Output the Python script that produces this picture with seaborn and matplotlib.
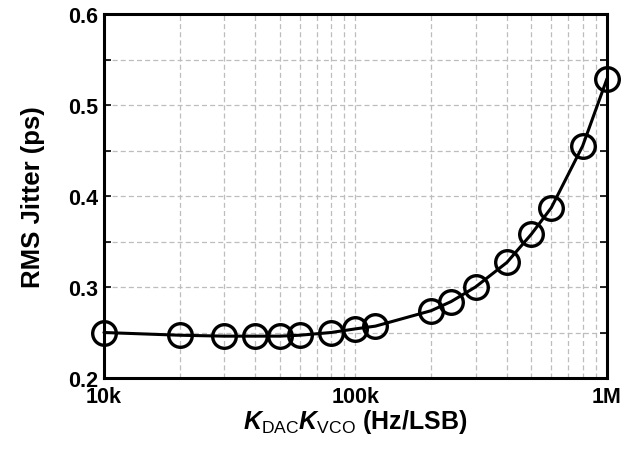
import matplotlib
matplotlib.use("Agg")
import matplotlib.pyplot as plt
import matplotlib.ticker as mticker
import numpy as np
import pandas as pd
import seaborn as sns

# K_DAC * K_VCO sweep (Hz/LSB) and resulting RMS jitter (ps)
kdac_kvco = [10e3, 20e3, 30e3, 40e3, 50e3, 60e3, 80e3, 100e3, 120e3,
             200e3, 240e3, 300e3, 400e3, 500e3, 600e3, 800e3, 1e6]
rms_jitter = [0.250, 0.247, 0.246, 0.246, 0.246, 0.247, 0.250, 0.254, 0.257,
              0.274, 0.284, 0.300, 0.327, 0.358, 0.387, 0.455, 0.529]

x_ticks = [1e4, 1e5, 1e6]
x_tick_labels = ["10k", "100k", "1M"]
y_ticks = [0.2, 0.3, 0.4, 0.5, 0.6]
y_tick_labels = ["0.2", "0.3", "0.4", "0.5", "0.6"]

sns.set_style("white")
plt.rcParams["font.family"] = ["Liberation Sans", "DejaVu Sans"]
plt.rcParams["mathtext.fontset"] = "custom"
plt.rcParams["mathtext.it"] = "Liberation Sans:italic:bold"
plt.rcParams["mathtext.rm"] = "Liberation Sans"
for key in ("text.color", "axes.labelcolor", "xtick.color", "ytick.color"):
    plt.rcParams[key] = "black"

df = pd.DataFrame({"k": kdac_kvco, "jitter": rms_jitter})

fig = plt.figure(figsize=(6.41, 4.52), dpi=100)
ax = fig.add_axes([0.1622, 0.1615, 0.7848, 0.8053])

sns.lineplot(data=df, x="k", y="jitter", ax=ax, color="black", linewidth=2.2,
             marker="o", markersize=17, markerfacecolor="none",
             markeredgecolor="black", markeredgewidth=2.4, clip_on=False,
             zorder=5)

ax.set_xscale("log")
ax.set_xlim(1e4, 1e6)
ax.set_ylim(0.2, 0.6)

ax.set_xticks(x_ticks)
ax.set_xticklabels(x_tick_labels)
ax.xaxis.set_minor_locator(mticker.LogLocator(base=10, subs=np.arange(2, 10)))
ax.xaxis.set_minor_formatter(mticker.NullFormatter())

ax.set_yticks(y_ticks)
ax.set_yticklabels(y_tick_labels)
ax.yaxis.set_minor_locator(mticker.MultipleLocator(0.05))

ax.grid(True, which="both", axis="both", color="#bdbdbd", linestyle=(0, (4, 2.5)),
        linewidth=0.9)
ax.set_axisbelow(True)

ax.tick_params(axis="y", which="both", direction="in", left=True, right=True,
               length=5, width=1.2, labelsize=15.5, pad=4, colors="black")
ax.tick_params(axis="x", which="both", length=0, labelsize=15.5, pad=6,
               colors="black")
for lbl in ax.get_xticklabels() + ax.get_yticklabels():
    lbl.set_fontweight("bold")

for sp in ax.spines.values():
    sp.set_color("black")
    sp.set_linewidth(2.2)

ax.set_xlabel(r"$K_{\mathrm{DAC}}K_{\mathrm{VCO}}$ (Hz/LSB)", fontsize=18,
              fontweight="bold", labelpad=0, color="black")
ax.set_ylabel("RMS Jitter (ps)", fontsize=18.5, fontweight="bold", labelpad=17,
              color="black")

fig.savefig("out.png", dpi=100)
